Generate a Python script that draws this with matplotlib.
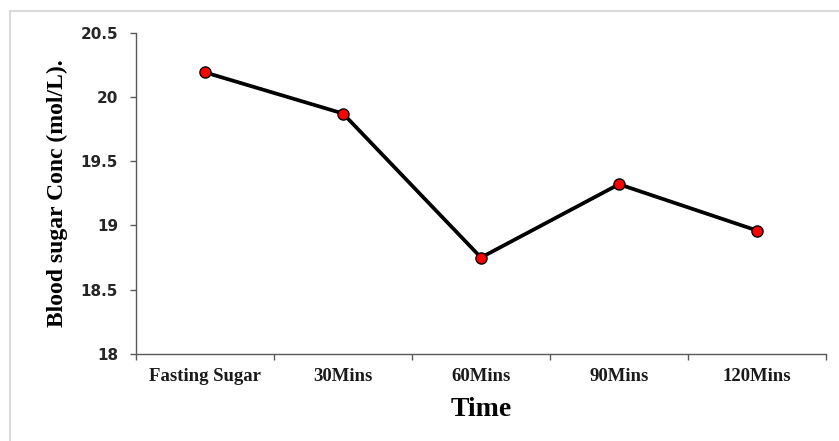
import numpy as np
import matplotlib.pyplot as plt
from matplotlib.patches import Rectangle

# data
times = ['Fasting Sugar', '30Mins', '60Mins', '90Mins', '120Mins']
conc = [20.19, 19.87, 18.75, 19.32, 18.96]
yticks = [18, 18.5, 19, 19.5, 20, 20.5]
ytick_labels = ['18', '18.5', '19', '19.5', '20', '20.5']

fig = plt.figure(figsize=(8.39, 4.41), dpi=100)

# light grey frame around the chart area
fig.patches.append(Rectangle((10/839, -0.05), 1.0, 1 - 11/441 + 0.05,
                             transform=fig.transFigure, fill=False,
                             edgecolor='#d9d9d9', linewidth=1.5))

ax = fig.add_axes([136/839, 1 - 354/441, 690/839, 321.5/441])

x = np.arange(len(times))
ax.plot(x, conc, color='black', linewidth=2.7, marker='o', markersize=8,
        markerfacecolor='red', markeredgecolor='black', markeredgewidth=1.0,
        zorder=3)

ax.set_xlim(-0.5, len(times) - 0.5)
ax.set_ylim(18, 20.5)

ax.set_yticks(yticks)
ax.set_yticklabels(ytick_labels, fontfamily='DejaVu Sans', fontweight='bold',
                   fontsize=11, color='#262626')

ax.set_xticks(x)
ax.set_xticklabels(times, fontfamily='Liberation Serif', fontweight='bold',
                   fontsize=13.5, color='#1a1a1a')
ax.set_xticks(np.arange(-0.5, len(times)), minor=True)
ax.tick_params(axis='x', which='major', length=0, pad=10)
ax.tick_params(axis='x', which='minor', length=4, color='#595959', width=1)
ax.tick_params(axis='y', length=4, color='#595959', width=1, pad=9)

for s in ['top', 'right']:
    ax.spines[s].set_visible(False)
for s in ['left', 'bottom']:
    ax.spines[s].set_color('#595959')
    ax.spines[s].set_linewidth(1)

ax.set_xlabel('Time', fontfamily='Liberation Serif', fontweight='bold',
              fontsize=20, labelpad=9)
ax.set_ylabel('Blood sugar Conc (mol/L).', fontfamily='Liberation Serif',
              fontweight='bold', fontsize=17, labelpad=9)

fig.savefig('out.png', dpi=100)
